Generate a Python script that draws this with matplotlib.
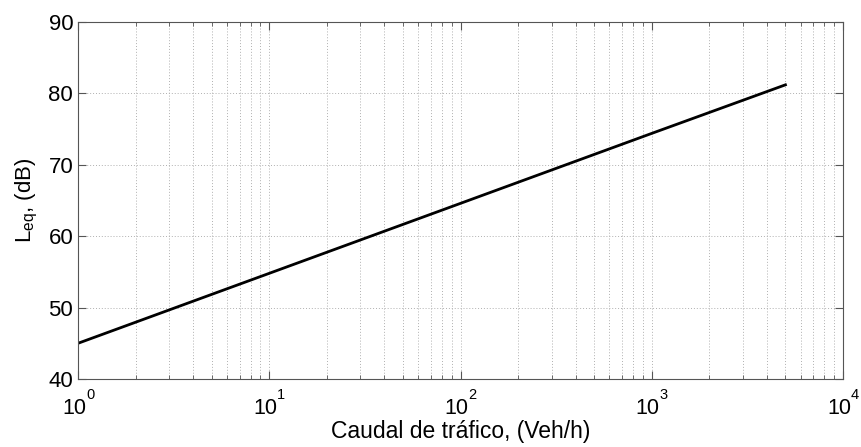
import matplotlib
matplotlib.use("Agg")
import matplotlib.pyplot as plt
from matplotlib.ticker import LogLocator, NullFormatter

plt.rcParams['font.family'] = ['Liberation Sans', 'DejaVu Sans']
plt.rcParams['mathtext.fontset'] = 'custom'
plt.rcParams['mathtext.rm'] = 'Liberation Sans'
plt.rcParams['mathtext.it'] = 'Liberation Sans'

# Traffic flow (veh/h) and equivalent sound level (dB)
caudal = [1, 10, 100, 1000, 5000]
leq = [45.0, 54.8, 64.6, 74.4, 81.2]

y_ticks = [40, 50, 60, 70, 80, 90]
x_ticks = [1, 10, 100, 1000, 10000]
x_exponents = ['0', '1', '2', '3', '4']

fig = plt.figure(figsize=(8.61, 4.47), dpi=100)
ax = fig.add_axes([78 / 861, 1 - 379 / 447, (843 - 78) / 861, (379 - 22) / 447])

ax.plot(caudal, leq, color='black', linewidth=2.0)

ax.set_xscale('log')
ax.set_xlim(1, 10000)
ax.set_ylim(40, 90)
ax.set_xticks(x_ticks)
ax.set_xticklabels([''] * len(x_ticks))
ax.xaxis.set_minor_locator(LogLocator(base=10, subs=range(2, 10), numticks=20))
ax.xaxis.set_minor_formatter(NullFormatter())
ax.set_yticks(y_ticks)

# Power-of-ten labels: base and raised exponent drawn separately
for xt, ex in zip(x_ticks, x_exponents):
    ax.annotate('10', xy=(xt, 0), xycoords=('data', 'axes fraction'),
                xytext=(-4, -19), textcoords='offset pixels',
                ha='center', va='top', fontsize=15.5)
    ax.annotate(ex, xy=(xt, 0), xycoords=('data', 'axes fraction'),
                xytext=(8, -9), textcoords='offset pixels',
                ha='left', va='top', fontsize=10.5)

ax.grid(True, which='major', color='#b0b0b0', linestyle=(0, (1, 2)), linewidth=0.7)
ax.grid(True, which='minor', axis='x', color='#b0b0b0', linestyle=(0, (1, 2)), linewidth=0.7)

ax.tick_params(which='both', direction='in', top=True, right=True, color='#555555')
ax.tick_params(axis='y', labelsize=16)
ax.tick_params(which='major', length=6)
ax.tick_params(which='minor', length=3)

for s in ax.spines.values():
    s.set_color('#555555')
    s.set_linewidth(0.8)

ax.set_xlabel('Caudal de tráfico, (Veh/h)', fontsize=16.5, labelpad=26)
ax.set_ylabel(r'L$_{\rm eq}$, (dB)', fontsize=16, labelpad=6)

fig.savefig('out.png', dpi=100)
